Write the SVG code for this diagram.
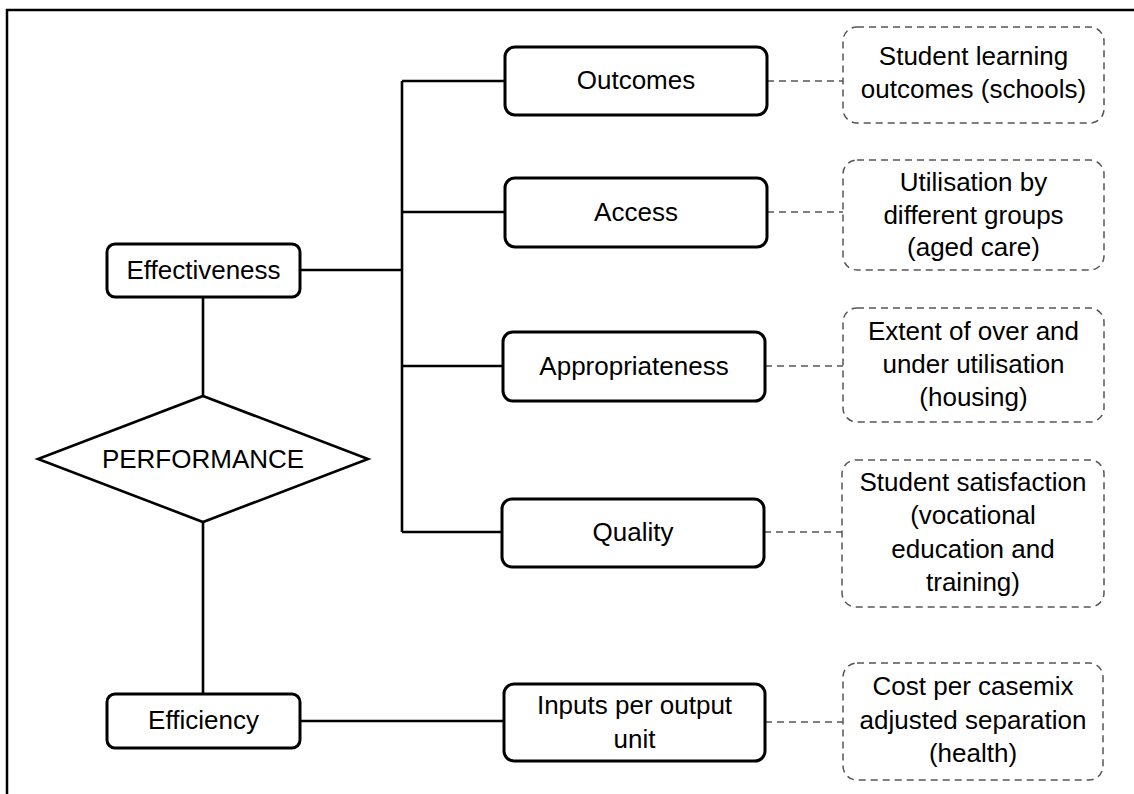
<svg xmlns="http://www.w3.org/2000/svg" width="1134" height="794" viewBox="0 0 1134 794">
<style>
text{font-family:"Liberation Sans",Arial,sans-serif;font-size:26px;fill:#000;text-anchor:middle}
.box{fill:#fff;stroke:#000;stroke-width:3}
.dbox{fill:#fff;stroke:#555;stroke-width:1.5;stroke-dasharray:7,5}
.ln{fill:none;stroke:#000;stroke-width:2.6}
.dl{fill:none;stroke:#555;stroke-width:1.5;stroke-dasharray:7,5}
</style>
<rect width="1134" height="794" fill="#fff"/>
<path d="M7,800 V10 H1140" fill="none" stroke="#000" stroke-width="2.5"/>
<g id="connectors">
<path class="ln" d="M203,297 V396"/>
<path class="ln" d="M203,522 V694"/>
<path class="ln" d="M300,270 H402"/>
<path class="ln" d="M402,81 V532"/>
<path class="ln" d="M402,81 H505"/>
<path class="ln" d="M402,212 H505"/>
<path class="ln" d="M402,366 H503"/>
<path class="ln" d="M402,532 H502"/>
<path class="ln" d="M300,721 H504"/>
<path class="dl" d="M767,81 H843"/>
<path class="dl" d="M767,212 H843"/>
<path class="dl" d="M765,366 H843"/>
<path class="dl" d="M764,532 H842"/>
<path class="dl" d="M765,722 H843"/>
</g>
<g id="effectiveness"><rect class="box" x="107" y="244" width="193" height="53" rx="8"/><text x="203.5" y="279">Effectiveness</text></g>
<g id="performance"><polygon points="203,396 368,459 203,522 38,459" fill="#fff" stroke="#000" stroke-width="2.6"/><text x="203" y="468">PERFORMANCE</text></g>
<g id="efficiency"><rect class="box" x="107" y="694" width="193" height="54" rx="8"/><text x="203.5" y="729">Efficiency</text></g>
<g id="outcomes"><rect class="box" x="505" y="47" width="262" height="68" rx="10"/><text x="636" y="89">Outcomes</text></g>
<g id="access"><rect class="box" x="505" y="178" width="262" height="69" rx="10"/><text x="636" y="221">Access</text></g>
<g id="appropriateness"><rect class="box" x="503" y="332" width="262" height="69" rx="10"/><text x="634" y="375">Appropriateness</text></g>
<g id="quality"><rect class="box" x="502" y="499" width="262" height="68" rx="10"/><text x="633" y="541">Quality</text></g>
<g id="inputs"><rect class="box" x="504" y="684" width="261" height="77" rx="10"/><text x="634.5" y="714">Inputs per output</text><text x="634.5" y="748">unit</text></g>
<g id="ex-outcomes"><rect class="dbox" x="843" y="27" width="261" height="96" rx="14"/><text x="973.5" y="65">Student learning</text><text x="973.5" y="98">outcomes (schools)</text></g>
<g id="ex-access"><rect class="dbox" x="843" y="160" width="261" height="110" rx="14"/><text x="973.5" y="191">Utilisation by</text><text x="973.5" y="224">different groups</text><text x="973.5" y="256">(aged care)</text></g>
<g id="ex-appropriateness"><rect class="dbox" x="843" y="308" width="261" height="114" rx="14"/><text x="973.5" y="340">Extent of over and</text><text x="973.5" y="373">under utilisation</text><text x="973.5" y="406">(housing)</text></g>
<g id="ex-quality"><rect class="dbox" x="842" y="460" width="262" height="147" rx="14"/><text x="973" y="491">Student satisfaction</text><text x="973" y="524">(vocational</text><text x="973" y="558">education and</text><text x="973" y="591">training)</text></g>
<g id="ex-efficiency"><rect class="dbox" x="843" y="663" width="260" height="117" rx="14"/><text x="973" y="695">Cost per casemix</text><text x="973" y="729">adjusted separation</text><text x="973" y="762">(health)</text></g>
</svg>
